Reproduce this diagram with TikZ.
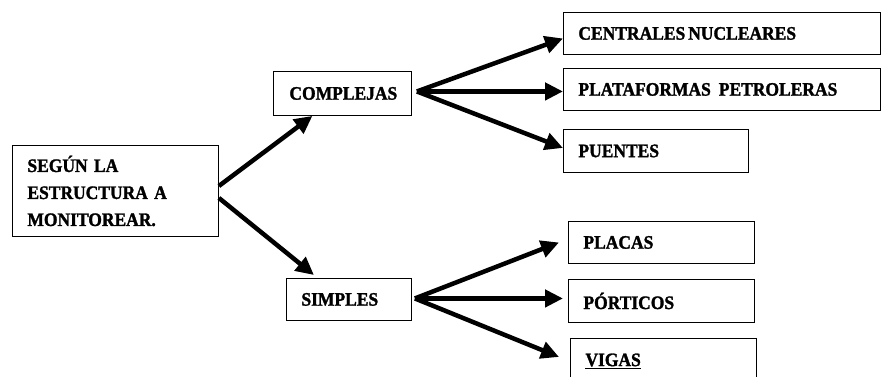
\documentclass[tikz,border=0pt]{standalone}
\usepackage{fontspec}
\setmainfont{Liberation Serif}[BoldFeatures={FakeBold=1.5,FakeStretch=0.92}]
\usetikzlibrary{arrows.meta}
\begin{document}
\begin{tikzpicture}[x=1pt,y=-1pt,
  box/.style={draw, line width=0.9pt, anchor=north west, inner xsep=15pt, inner ysep=0pt,
    align=left, font=\bfseries\fontsize{19}{27}\selectfont},
  arr/.style={line width=4.5pt, -{Triangle[length=18pt,width=17pt]}}]
\useasboundingbox[fill=white] (0,0) rectangle (881,376);
\node[box, text width=176pt, minimum height=91pt] (root) at (12,145) {SEGÚN LA\\ESTRUCTURA A\\MONITOREAR.};
\node[box, inner xsep=16pt, text width=106pt, minimum height=44pt] (compl) at (273,71) {COMPLEJAS};
\node[box, text width=95pt, minimum height=42pt] (simp) at (286,278) {SIMPLES};
\node[box, text width=287pt, minimum height=42pt] (cent) at (563,12) {CENTRALES\hspace{3pt}NUCLEARES};
\node[box, text width=287pt, minimum height=42pt] (plat) at (563,68) {PLATAFORMAS\hspace{8pt}PETROLERAS};
\node[box, text width=155pt, minimum height=43pt] (puen) at (563,129) {PUENTES};
\node[box, text width=156pt, minimum height=42pt] (plac) at (568,221) {PLACAS};
\node[box, text width=156pt, minimum height=43pt] (port) at (568,279) {PÓRTICOS};
\node[box, text width=156pt, minimum height=45pt] (viga) at (570,338) {\underline{VIGAS}};
\draw[arr] ([yshift=5pt]root.east) -- ([xshift=-30pt]compl.south);
\draw[arr] ([yshift=-7pt]root.east) -- ([xshift=-35pt,yshift=3pt]simp.north);
\draw[arr] ([xshift=5pt,yshift=2pt]compl.east) -- ([yshift=-5pt]cent.west);
\draw[arr] ([xshift=5pt,yshift=2pt]compl.east) -- ([yshift=-2pt]plat.west);
\draw[arr] ([xshift=5pt,yshift=2pt]compl.east) -- ([yshift=3pt]puen.west);
\draw[arr] ([xshift=3pt,yshift=1pt]simp.east) -- ([xshift=-9pt]plac.west);
\draw[arr] ([xshift=3pt,yshift=1pt]simp.east) -- ([xshift=-5pt,yshift=2.5pt]port.west);
\draw[arr] ([xshift=3pt,yshift=1pt]simp.east) -- ([xshift=-11pt,yshift=4pt]viga.west);
\end{tikzpicture}
\end{document}
